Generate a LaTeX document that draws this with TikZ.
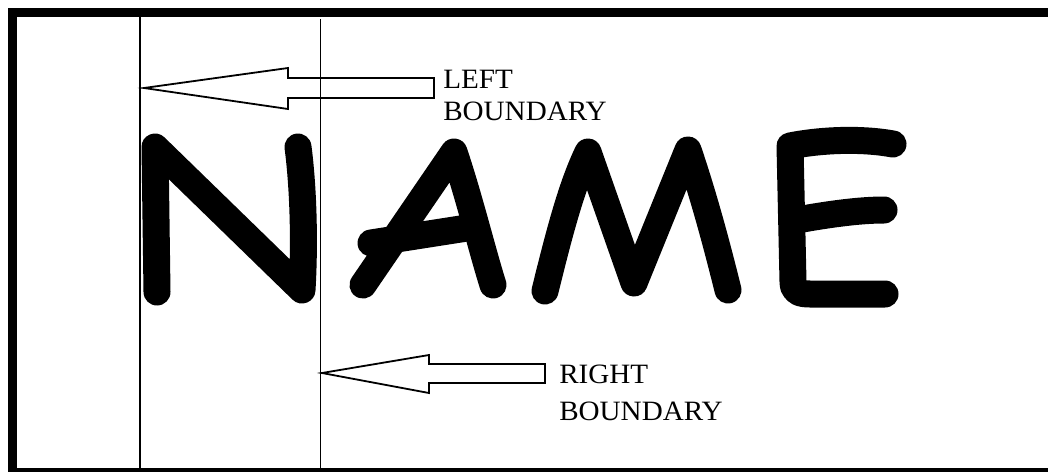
\documentclass[tikz,border=0pt]{standalone}
\usepackage{fontspec}
\setmainfont[FakeStretch=1.04]{Liberation Serif}
\begin{document}
\begin{tikzpicture}[x=0.75pt,y=-0.75pt,
  frame/.style={line width=9*0.75pt},
  guide/.style={line width=1.8*0.75pt},
  hollowarrow/.style={line width=1.8*0.75pt, line join=miter, fill=white},
  label/.style={font=\fontsize{21}{21}\selectfont, inner sep=0pt, align=left, anchor=base west},
  brush/.style={line width=27*0.75pt, line cap=round, line join=round}]
  \useasboundingbox (0,0) rectangle (1048,471);
  \clip (0,0) rectangle (1048,471);
  \fill[white] (0,0) rectangle (1048,471);

  % outer frame (open to the right)
  \draw[frame] (1060,12.5) -- (12.5,12.5) -- (12.5,472) -- (1060,472);

  % boundary guide lines
  \coordinate (lt) at (140,17);  \coordinate (lb) at (140,468);
  \coordinate (rt) at (320.5,19); \coordinate (rb) at (320.5,468);
  \draw[guide] (lt) -- (lb);
  \draw[guide] (rt) -- (rb);

  % hand-lettered NAME
  \draw[brush] (157,292) -- (155,147) -- (302,290)
     .. controls (305,240) and (303,185) .. (298,147);
  \draw[brush] (363,285) -- (454,152) .. controls (470,200) and (482,250) .. (493,285);
  \draw[brush] (371,243) -- (467,228);
  \draw[brush] (545,291) .. controls (560,230) and (572,185) .. (588,152)
     -- (634,283) -- (688,150) .. controls (705,200) and (718,250) .. (728,290);
  \draw[brush] (893,144) .. controls (860,138) and (820,140) .. (790,146)
     -- (793,282) .. controls (793,292) and (800,294) .. (810,294) -- (885,294);
  \draw[brush] (797,220) .. controls (830,214) and (860,210) .. (884,210);

  % left boundary pointer
  \coordinate (ltip) at (144,88);
  \draw[hollowarrow] (ltip) -- (288,68) -- (288,78) -- (434,78) -- (434,98)
     -- (288,98) -- (288,109) -- cycle;
  \node[label] (lefttxt) at (443,120) {LEFT\\[3pt]BOUNDARY};

  % right boundary pointer
  \coordinate (rtip) at (322,373);
  \draw[hollowarrow] (rtip) -- (429,355) -- (429,364) -- (545,364) -- (545,383)
     -- (429,383) -- (429,393) -- cycle;
  \node[label] (righttxt) at (559,420) {RIGHT\\[6.75pt]BOUNDARY};

  % the right guide line shows through the left pointer
  \draw[guide] (rt) -- (320.5,100);
\end{tikzpicture}
\end{document}
